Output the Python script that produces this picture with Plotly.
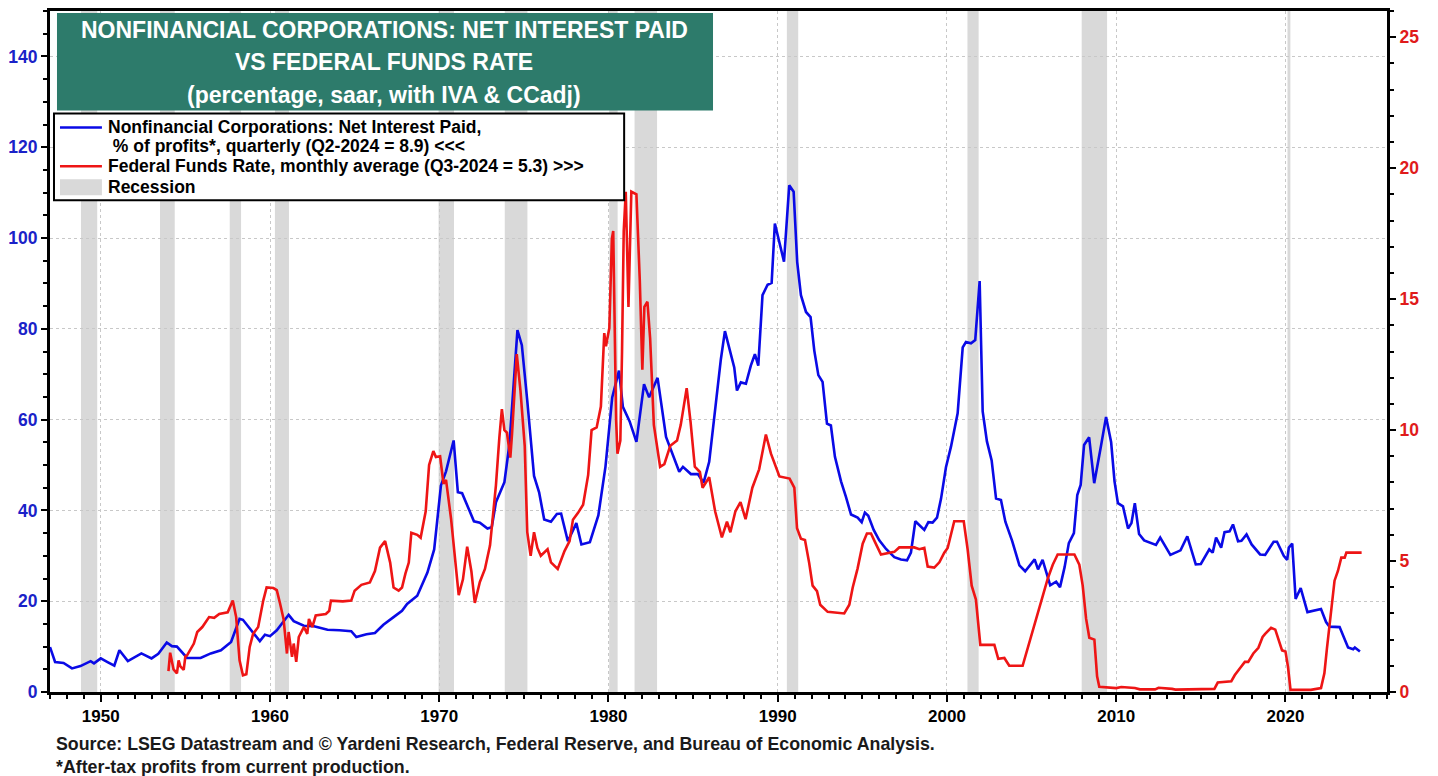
import plotly.graph_objects as go

# Nonfinancial corporations: net interest paid as % of after-tax profits (left axis)
interest_years = [
    1947.0, 1947.3, 1947.8, 1948.3, 1948.8, 1949.4, 1949.6, 1950.0, 1950.4, 1950.8,
    1951.1, 1951.6, 1952.4, 1953.0, 1953.4, 1953.9, 1954.2, 1954.5, 1955.1, 1955.9,
    1956.5, 1957.1, 1957.7, 1958.2, 1958.4, 1959.4, 1959.7, 1960.0, 1960.4, 1961.1,
    1961.4, 1962.0, 1962.6, 1963.4, 1964.1, 1964.8, 1965.1, 1965.7, 1966.2, 1966.7,
    1967.3, 1967.8, 1968.1, 1968.7, 1969.3, 1969.7, 1970.1, 1970.4, 1970.85, 1971.1,
    1971.35, 1972.05, 1972.4, 1972.85, 1973.1, 1973.35, 1973.85, 1974.15, 1974.62, 1974.88,
    1975.2, 1975.6, 1975.9, 1976.2, 1976.6, 1976.95, 1977.2, 1977.35, 1977.6, 1978.1,
    1978.4, 1978.9, 1979.4, 1979.82, 1980.22, 1980.62, 1980.85, 1981.25, 1981.65, 1982.1,
    1982.4, 1982.9, 1983.4, 1984.18, 1984.4, 1984.87, 1985.28, 1985.62, 1985.95, 1986.35,
    1986.64, 1986.88, 1987.13, 1987.43, 1987.59, 1987.82, 1988.12, 1988.41, 1988.65, 1988.85,
    1989.1, 1989.4, 1989.64, 1989.83, 1990.37, 1990.68, 1990.94, 1991.15, 1991.37, 1991.67,
    1991.94, 1992.16, 1992.4, 1992.65, 1992.91, 1993.14, 1993.38, 1993.74, 1994.03, 1994.33,
    1994.72, 1994.96, 1995.15, 1995.35, 1995.67, 1996.0, 1996.4, 1996.89, 1997.28, 1997.64,
    1997.87, 1998.13, 1998.66, 1998.9, 1999.15, 1999.41, 1999.65, 1999.94, 2000.24, 2000.63,
    2000.93, 2001.12, 2001.42, 2001.67, 2001.93, 2002.11, 2002.36, 2002.64, 2002.9, 2003.19,
    2003.45, 2003.85, 2004.28, 2004.62, 2005.18, 2005.38, 2005.65, 2006.1, 2006.45, 2006.68,
    2006.95, 2007.2, 2007.5, 2007.7, 2007.9, 2008.1, 2008.4, 2008.7, 2009.1, 2009.4,
    2009.7, 2009.9, 2010.1, 2010.4, 2010.7, 2010.9, 2011.1, 2011.35, 2011.65, 2012.35,
    2012.6, 2013.2, 2013.8, 2014.2, 2014.7, 2015.0, 2015.5, 2015.7, 2015.9, 2016.2,
    2016.4, 2016.7, 2016.9, 2017.2, 2017.4, 2017.7, 2018.0, 2018.5, 2018.8, 2019.3,
    2019.5, 2019.9, 2020.1, 2020.2, 2020.4, 2020.6, 2020.9, 2021.3, 2022.1, 2022.4,
    2022.6, 2023.2, 2023.7, 2024.0, 2024.1, 2024.4,
]
interest_pct = [
    9.9, 6.6, 6.4, 5.2, 5.7, 6.8, 6.3, 7.4, 6.6, 5.8,
    9.2, 6.8, 8.5, 7.4, 8.4, 10.9, 10.1, 10.0, 7.5, 7.5,
    8.5, 9.2, 11.0, 16.1, 15.9, 11.2, 12.6, 12.3, 13.6, 17.0,
    15.6, 14.6, 14.5, 13.7, 13.6, 13.4, 12.1, 12.7, 13.0, 14.8,
    16.5, 17.9, 19.4, 21.2, 26.3, 31.4, 45.5, 48.6, 55.4, 44.0,
    43.8, 37.6, 37.3, 36.0, 36.3, 41.8, 46.2, 54.7, 79.7, 76.4,
    64.2, 47.6, 44.0, 38.0, 37.5, 39.2, 39.3, 37.2, 33.2, 37.2,
    32.5, 33.0, 38.9, 49.6, 64.9, 70.8, 62.8, 59.6, 55.1, 67.8,
    64.9, 69.2, 56.2, 48.5, 49.6, 48.0, 48.0, 46.1, 50.7, 63.8,
    73.3, 79.5, 75.9, 71.5, 66.4, 68.2, 67.9, 71.9, 74.4, 71.9,
    87.4, 89.7, 90.1, 103.2, 94.8, 111.6, 110.2, 94.7, 87.4, 83.7,
    82.6, 75.2, 69.8, 68.3, 59.1, 58.7, 51.8, 46.4, 43.0, 39.1,
    38.4, 37.4, 39.5, 38.8, 35.7, 33.4, 31.5, 29.7, 29.2, 29.0,
    30.7, 37.6, 35.7, 37.4, 37.3, 38.4, 42.6, 49.5, 54.1, 61.4,
    75.9, 77.1, 76.8, 77.5, 90.5, 61.8, 55.2, 51.0, 42.6, 42.3,
    37.5, 33.3, 27.9, 26.6, 29.2, 27.0, 29.1, 23.5, 24.3, 23.1,
    27.5, 32.8, 35.0, 43.4, 45.6, 54.4, 56.1, 46.0, 54.2, 60.6,
    55.0, 46.4, 41.6, 40.9, 36.0, 37.2, 41.6, 34.8, 33.4, 32.4,
    34.0, 30.2, 31.2, 34.3, 28.1, 28.2, 31.4, 30.7, 34.0, 31.8,
    35.2, 35.4, 36.9, 33.2, 33.3, 34.7, 32.5, 30.3, 30.2, 33.1,
    33.1, 30.0, 29.1, 31.8, 32.7, 20.5, 22.9, 17.6, 18.3, 15.4,
    14.4, 14.3, 9.8, 9.4, 9.8, 8.9,
]

# Federal funds rate, monthly average (right axis)
ffr_years = [
    1954.0, 1954.1, 1954.3, 1954.5, 1954.6, 1954.7, 1954.9, 1955.0, 1955.1, 1955.5,
    1955.7, 1956.0, 1956.4, 1956.7, 1957.0, 1957.5, 1957.8, 1958.0, 1958.2, 1958.4,
    1958.6, 1958.8, 1959.0, 1959.3, 1959.6, 1959.8, 1960.2, 1960.4, 1960.6, 1960.8,
    1961.0, 1961.1, 1961.3, 1961.4, 1961.55, 1961.7, 1962.0, 1962.2, 1962.3, 1962.5,
    1962.7, 1963.3, 1963.5, 1963.6, 1964.3, 1964.8, 1965.0, 1965.4, 1965.9, 1966.2,
    1966.5, 1966.8, 1967.1, 1967.3, 1967.6, 1967.8, 1968.0, 1968.2, 1968.35, 1968.7,
    1968.9, 1969.2, 1969.4, 1969.65, 1969.8, 1970.05, 1970.25, 1970.4, 1970.7, 1970.95,
    1971.15, 1971.4, 1971.65, 1971.9, 1972.1, 1972.4, 1972.7, 1973.0, 1973.35, 1973.55,
    1973.7, 1973.85, 1974.0, 1974.2, 1974.3, 1974.58, 1974.8, 1975.05, 1975.2, 1975.4,
    1975.6, 1975.8, 1976.0, 1976.4, 1976.6, 1977.0, 1977.4, 1977.7, 1977.9, 1978.2,
    1978.5, 1978.8, 1979.0, 1979.3, 1979.55, 1979.75, 1979.85, 1980.05, 1980.2, 1980.28,
    1980.45, 1980.53, 1980.7, 1980.8, 1980.9, 1981.02, 1981.18, 1981.35, 1981.65, 1981.85,
    1982.0, 1982.12, 1982.3, 1982.46, 1982.68, 1983.05, 1983.3, 1983.65, 1984.05, 1984.27,
    1984.62, 1984.85, 1985.1, 1985.4, 1985.56, 1985.95, 1986.3, 1986.7, 1987.0, 1987.2,
    1987.5, 1987.8, 1988.1, 1988.5, 1988.9, 1989.3, 1989.6, 1990.1, 1990.7, 1990.98,
    1991.14, 1991.37, 1991.61, 1991.86, 1992.06, 1992.32, 1992.51, 1992.95, 1993.93, 1994.23,
    1994.43, 1994.72, 1995.02, 1995.27, 1995.51, 1995.7, 1996.1, 1996.89, 1997.18, 1998.07,
    1998.37, 1998.66, 1998.86, 1999.25, 1999.55, 1999.84, 2000.04, 2000.43, 2000.99, 2001.22,
    2001.46, 2001.71, 2001.97, 2002.8, 2003.03, 2003.39, 2003.68, 2004.47, 2004.77, 2005.06,
    2005.36, 2005.65, 2005.95, 2006.25, 2006.54, 2007.53, 2007.82, 2008.02, 2008.22, 2008.41,
    2008.71, 2008.87, 2009.0, 2010.0, 2010.3, 2011.1, 2011.4, 2012.3, 2012.5, 2013.3,
    2013.5, 2015.8, 2016.0, 2016.8, 2017.0, 2017.3, 2017.6, 2017.8, 2018.1, 2018.4,
    2018.65, 2018.8, 2019.15, 2019.4, 2019.8, 2020.0, 2020.15, 2020.3, 2021.5, 2022.1,
    2022.3, 2022.45, 2022.7, 2022.9, 2023.1, 2023.3, 2023.5, 2023.6, 2024.5,
]
ffr_rate = [
    0.8, 1.5, 0.86, 0.71, 1.21, 0.98, 0.85, 1.36, 1.4, 1.85,
    2.29, 2.48, 2.86, 2.83, 2.98, 3.04, 3.49, 2.86, 1.21, 0.64,
    0.68, 1.72, 2.22, 2.48, 3.49, 3.99, 3.97, 3.89, 3.36, 2.79,
    1.47, 2.29, 1.34, 1.85, 1.15, 2.1, 2.48, 2.22, 2.79, 2.48,
    2.92, 2.98, 3.1, 3.49, 3.46, 3.49, 3.87, 4.09, 4.18, 4.62,
    5.51, 5.76, 4.94, 3.99, 3.87, 3.99, 4.52, 4.94, 6.08, 6.0,
    5.89, 6.9, 8.67, 9.2, 8.97, 9.0, 7.95, 8.1, 6.6, 5.0,
    3.7, 4.3, 5.55, 4.6, 3.4, 4.2, 4.7, 5.6, 7.9, 9.7,
    10.8, 10.0, 9.9, 8.95, 9.85, 12.9, 11.5, 9.4, 6.1, 5.2,
    6.1, 5.5, 5.2, 5.45, 4.95, 4.7, 5.38, 5.76, 6.58, 6.84,
    7.15, 8.29, 10.0, 10.1, 10.9, 13.7, 13.2, 13.9, 17.3, 17.6,
    10.4, 9.1, 9.6, 13.0, 17.6, 19.1, 14.7, 19.1, 19.0, 15.7,
    12.3, 14.7, 14.9, 13.5, 10.2, 8.6, 8.7, 9.4, 9.6, 10.2,
    11.6, 10.3, 8.6, 8.4, 7.8, 8.2, 6.9, 5.9, 6.5, 6.1,
    6.9, 7.25, 6.6, 7.8, 8.5, 9.83, 9.1, 8.23, 8.15, 7.8,
    6.25, 5.85, 5.8, 4.92, 4.06, 3.85, 3.33, 3.06, 3.0, 3.33,
    3.99, 4.72, 5.66, 6.05, 6.05, 5.79, 5.25, 5.35, 5.52, 5.52,
    5.45, 5.5, 4.79, 4.75, 4.95, 5.32, 5.5, 6.52, 6.52, 5.45,
    4.06, 3.53, 1.8, 1.8, 1.27, 1.3, 1.0, 1.0, 1.66, 2.26,
    2.99, 3.66, 4.32, 4.86, 5.25, 5.25, 4.86, 4.06, 2.8, 2.07,
    2.0, 0.6, 0.2, 0.15, 0.19, 0.15, 0.1, 0.1, 0.16, 0.12,
    0.09, 0.12, 0.36, 0.41, 0.64, 0.9, 1.15, 1.15, 1.47, 1.69,
    2.1, 2.22, 2.45, 2.38, 1.59, 1.55, 0.96, 0.08, 0.08, 0.15,
    0.71, 1.66, 2.98, 4.25, 4.62, 5.13, 5.13, 5.32, 5.32,
]

# NBER recessions (decimal years)
recession_start = [1948.83, 1953.5, 1957.62, 1960.29, 1969.96, 1973.87,
                   1980.04, 1981.54, 1990.54, 2001.21, 2007.96, 2020.12]
recession_end = [1949.79, 1954.37, 1958.29, 1961.12, 1970.87, 1975.21,
                 1980.54, 1982.87, 1991.21, 2001.87, 2009.46, 2020.29]

x_ticks = [1950, 1960, 1970, 1980, 1990, 2000, 2010, 2020]
left_ticks = [0, 20, 40, 60, 80, 100, 120, 140]
right_ticks = [0, 5, 10, 15, 20, 25]

title_lines = [
    "NONFINANCIAL CORPORATIONS: NET INTEREST PAID",
    "VS FEDERAL FUNDS RATE",
    "(percentage, saar, with IVA & CCadj)",
]
legend_lines = [
    "Nonfinancial Corporations: Net Interest Paid,",
    " % of profits*, quarterly (Q2-2024 = 8.9) <<<",
    "Federal Funds Rate, monthly average (Q3-2024 = 5.3) >>>",
    "Recession",
]
footnotes = [
    "Source: LSEG Datastream and © Yardeni Research, Federal Reserve, and Bureau of Economic Analysis.",
    "*After-tax profits from current production.",
]

BLUE = "#0a0ae6"
RED = "#ee1515"
GREY = "#d9d9d9"
TEAL = "#2d7b6b"
FONT = "Liberation Sans, Arial, sans-serif"

# the page puts the figure 8px in from the top-left corner
OFF = 8
W, H = 1430, 768
L, R, T, B = 40, 51, 0, 84


def fx(px):
    # page pixel x -> paper x
    return (px - OFF - L) / (W - L - R)


def fy(py):
    # page pixel y -> paper y
    return (H - B - (py - OFF)) / (H - B - T)


fig = go.Figure()

fig.add_trace(go.Scatter(x=interest_years, y=interest_pct, mode="lines",
                         line=dict(color=BLUE, width=2.6), showlegend=False))
fig.add_trace(go.Scatter(x=ffr_years, y=ffr_rate, mode="lines", yaxis="y2",
                         line=dict(color=RED, width=2.6), showlegend=False))

shapes = []
for s, e in zip(recession_start, recession_end):
    shapes.append(dict(type="rect", xref="x", yref="paper", x0=s, x1=e, y0=0, y1=1,
                       fillcolor=GREY, line=dict(width=0), layer="below"))

# title box
shapes.append(dict(type="rect", xref="paper", yref="paper",
                   x0=fx(55), x1=fx(712), y0=fy(108), y1=fy(10),
                   fillcolor=TEAL, line=dict(width=0), layer="above"))
# legend box
shapes.append(dict(type="rect", xref="paper", yref="paper",
                   x0=fx(52), x1=fx(623), y0=fy(198), y1=fy(111),
                   fillcolor="white", line=dict(color="black", width=2), layer="above"))
shapes.append(dict(type="line", xref="paper", yref="paper",
                   x0=fx(58), x1=fx(100), y0=fy(125), y1=fy(125),
                   line=dict(color=BLUE, width=2.6), layer="above"))
shapes.append(dict(type="line", xref="paper", yref="paper",
                   x0=fx(58), x1=fx(100), y0=fy(164), y1=fy(164),
                   line=dict(color=RED, width=2.6), layer="above"))
shapes.append(dict(type="rect", xref="paper", yref="paper",
                   x0=fx(58), x1=fx(100), y0=fy(193), y1=fy(177),
                   fillcolor=GREY, line=dict(width=0), layer="above"))

annotations = []
for text, py in zip(title_lines, [27, 59, 92]):
    annotations.append(dict(text=text, xref="paper", yref="paper", x=fx(383), y=fy(py),
                            xanchor="center", yanchor="middle", showarrow=False,
                            font=dict(family=FONT, size=23, color="white", weight="bold")))
for text, px, py in zip(legend_lines, [104, 104, 104, 104], [125, 144, 164, 185]):
    annotations.append(dict(text=text, xref="paper", yref="paper", x=fx(px), y=fy(py),
                            xanchor="left", yanchor="middle", showarrow=False,
                            font=dict(family=FONT, size=17.5, color="black", weight="bold")))
for text, py in zip(footnotes, [744, 767]):
    annotations.append(dict(text=text, xref="paper", yref="paper", x=fx(52), y=fy(py),
                            xanchor="left", yanchor="middle", showarrow=False,
                            font=dict(family=FONT, size=17.8, color="#1a1a1a", weight="bold")))

fig.update_layout(
    width=W, height=H,
    margin=dict(l=L, r=R, t=T, b=B),
    paper_bgcolor="white", plot_bgcolor="white",
    showlegend=False,
    shapes=shapes,
    annotations=annotations,
    xaxis=dict(
        range=[1947, 2026], tickvals=x_ticks, ticks="outside", ticklen=7, tickwidth=1.5,
        tickcolor="black", showline=True, linecolor="black", linewidth=3, mirror=True,
        showgrid=True, gridcolor="#c8c8c8", griddash="dot", gridwidth=1, zeroline=False,
        tickfont=dict(family=FONT, size=17, color="black", weight="bold"),
        minor=dict(dtick=1, tick0=1950, ticks="outside", ticklen=4, tickcolor="black",
                   showgrid=False),
    ),
    yaxis=dict(
        range=[0, 150], tickvals=left_ticks, ticks="outside", ticklen=6, tickwidth=1.5,
        tickcolor="black", showline=True, linecolor="black", linewidth=3,
        showgrid=True, gridcolor="#c8c8c8", griddash="dot", gridwidth=1, zeroline=False,
        tickfont=dict(family=FONT, size=17.5, color="#1a22c8", weight="bold"),
        minor=dict(dtick=5, ticks="outside", ticklen=4, tickcolor="black", showgrid=False),
    ),
    yaxis2=dict(
        range=[0, 26], tickvals=right_ticks, overlaying="y", side="right",
        ticks="outside", ticklen=6, tickwidth=1.5, tickcolor="black",
        showline=True, linecolor="black", linewidth=3, showgrid=False, zeroline=False,
        tickfont=dict(family=FONT, size=17.5, color="#e01b1b", weight="bold"),
        minor=dict(dtick=1, ticks="outside", ticklen=4, tickcolor="black", showgrid=False),
    ),
)

fig.write_html("out.html")
